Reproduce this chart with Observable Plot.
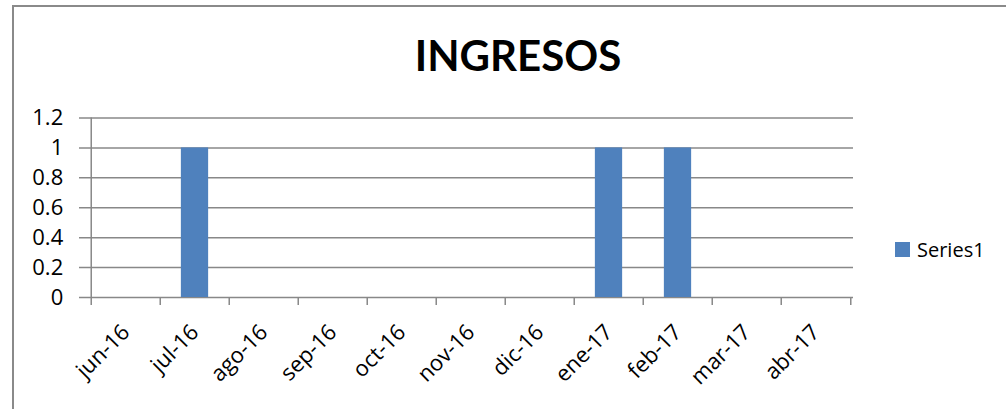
<!DOCTYPE html>
<html><head><meta charset="utf-8">
<script src="https://cdn.jsdelivr.net/npm/d3@7"></script>
<script src="https://cdn.jsdelivr.net/npm/@observablehq/plot@0.6"></script>
<style>
body{margin:0;background:#fff;font-family:"Open Sans", sans-serif;}
#wrap{position:relative;width:1006px;height:409px;overflow:hidden;background:#fff;}
#frame{position:absolute;left:12px;top:5px;width:1100px;height:600px;border-left:2px solid #8a8a8a;border-top:2px solid #8a8a8a;}
#title{position:absolute;left:0;top:30px;width:1036px;text-align:center;font-family:Lato, sans-serif;font-weight:bold;font-size:42px;line-height:50px;color:#000;}
#legend{position:absolute;left:895px;top:236px;height:26px;display:flex;align-items:center;font-size:20px;color:#000;}
#legend .sw{width:15px;height:15px;background:#4F81BD;margin-right:7px;}
#chart{position:absolute;left:0;top:0;}
</style>
</head><body>
<div id="wrap">
  <div id="frame"></div>
  <div id="chart"></div>
  <div id="title">INGRESOS</div>
  <div id="legend"><div class="sw"></div><span id="legname"></span></div>
</div>
<script>
const months = ["jun-16","jul-16","ago-16","sep-16","oct-16","nov-16","dic-16","ene-17","feb-17","mar-17","abr-17"];
const values = [0,1,0,0,0,0,0,1,1,0,0];
const yTicks = [0,0.2,0.4,0.6,0.8,1,1.2];
const seriesName = "Series1";
const data = months.map((m,i)=>({month:m, value:values[i]}));

const W = 1006, H = 409, mL = 88, mR = 153, mT = 117.5, mB = 112;
const bw = (W - mL - mR) / months.length;
const grid = "#888888";

document.getElementById("legname").textContent = seriesName;

const plot = Plot.plot({
  width: W, height: H,
  marginLeft: mL, marginRight: mR, marginTop: mT, marginBottom: mB,
  style: {fontFamily: "'Open Sans', sans-serif", fontSize: "22px", color: "#000", background: "transparent", overflow: "visible"},
  x: {type: "band", domain: months, padding: 0, axis: null},
  y: {domain: [0, 1.2], axis: null},
  marks: [
    Plot.ruleY(yTicks, {y: d => d, stroke: grid, strokeWidth: 1.5, insetLeft: -9}),
    Plot.ruleX([months[0]], {x: d => d, y1: 0, y2: 1.2, dx: -bw/2, stroke: grid, strokeWidth: 1.5}),
    Plot.ruleX(months, {x: d => d, y1: 0, y2: 0, dx: -bw/2, insetBottom: -8, stroke: grid, strokeWidth: 1.5}),
    Plot.ruleX([months[months.length-1]], {x: d => d, y1: 0, y2: 0, dx: bw/2, insetBottom: -8, stroke: grid, strokeWidth: 1.5}),
    Plot.barY(data, {x: "month", y: "value", fill: "#4F81BD", insetLeft: bw*0.3, insetRight: bw*0.3}),
    Plot.text(yTicks, {x: () => months[0], y: d => d, text: d => String(d), textAnchor: "end", dx: -bw/2 - 28, fontSize: 22, fill: "#000"}),
    Plot.text(months, {x: d => d, y: () => 0, text: d => d, rotate: -45, textAnchor: "end", dx: 0, dy: 31, fontSize: 22, fill: "#000"})
  ]
});
document.getElementById("chart").appendChild(plot);
</script>
</body></html>
